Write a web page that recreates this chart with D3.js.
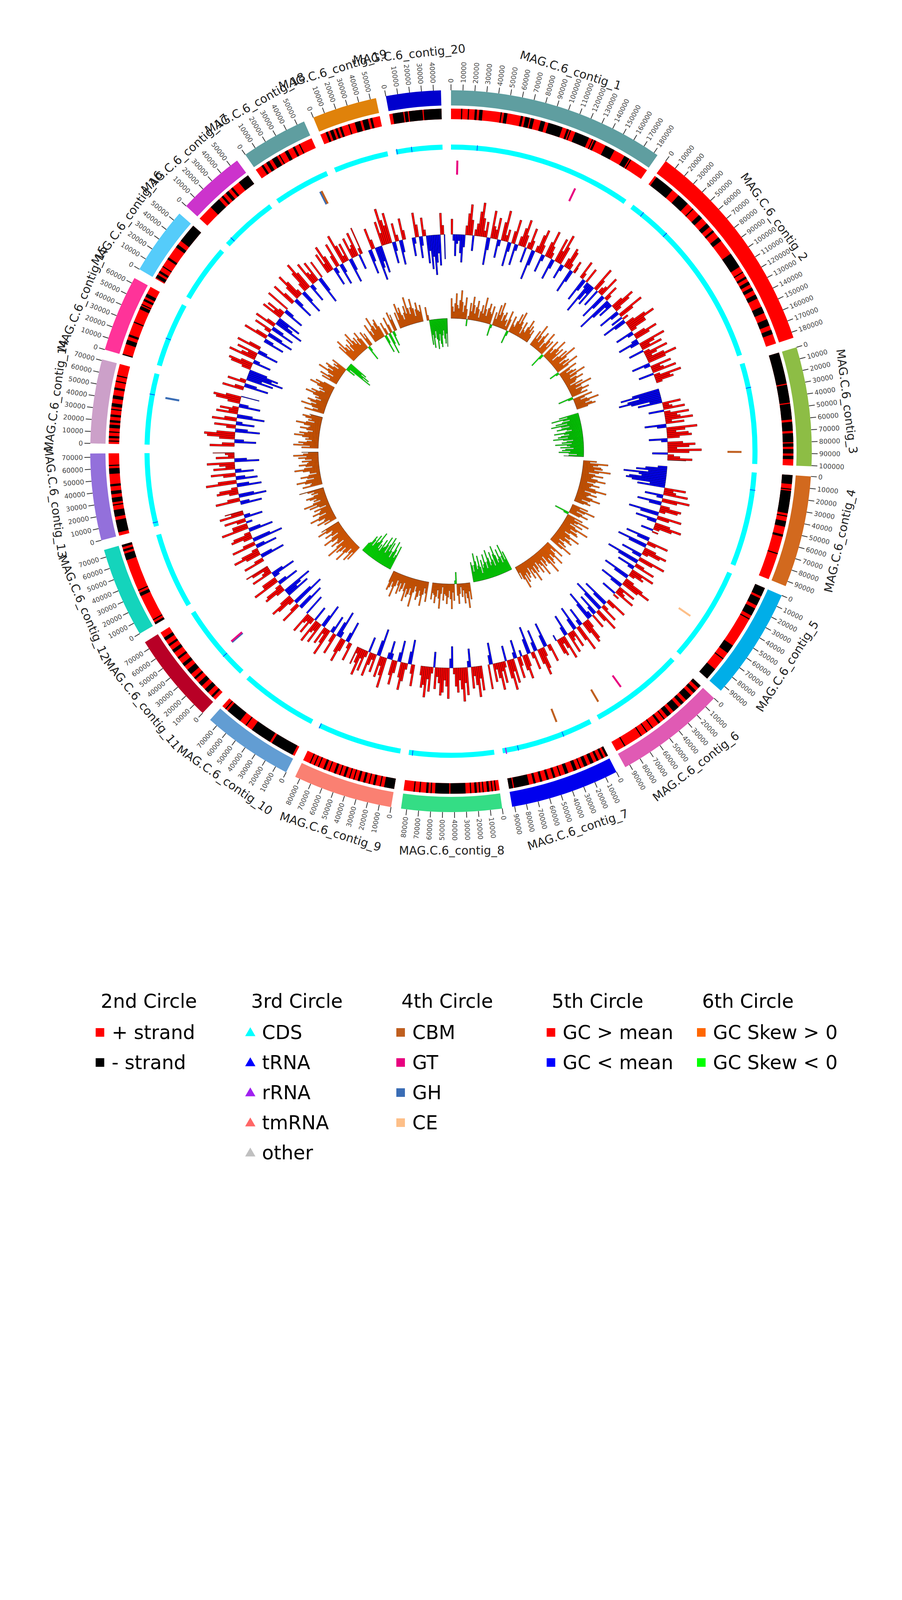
<!DOCTYPE html>
<html>
<head>
<meta charset="utf-8">
<script src="https://cdn.jsdelivr.net/npm/d3@7/dist/d3.min.js"></script>
<style>
  body { margin: 0; background: #fff; }
  text { font-family: "DejaVu Sans", sans-serif; }
</style>
</head>
<body>
<div id="chart"></div>
<script>
// ---- data ----
const contigNames = ["MAG.C.6_contig_1","MAG.C.6_contig_2","MAG.C.6_contig_3","MAG.C.6_contig_4","MAG.C.6_contig_5",
  "MAG.C.6_contig_6","MAG.C.6_contig_7","MAG.C.6_contig_8","MAG.C.6_contig_9","MAG.C.6_contig_10",
  "MAG.C.6_contig_11","MAG.C.6_contig_12","MAG.C.6_contig_13","MAG.C.6_contig_14","MAG.C.6_contig_15",
  "MAG.C.6_contig_16","MAG.C.6_contig_17","MAG.C.6_contig_18","MAG.C.6_contig_19","MAG.C.6_contig_20"];
const contigLengths = [183500,184800,100600,94300,94800,94200,92100,84800,84200,77300,
  76400,76100,73200,71000,64800,57300,57100,56400,54800,46300];
const contigColors = ["#5F9EA0","#FF0000","#8DBD45","#D2691E","#00AEE8","#E05AB4","#0000EE","#34DD85","#FA8072","#629DD3",
  "#B80026","#14D4BC","#9370DB","#CCA0C9","#FF3399","#55CCFA","#CC33CC","#5F9EA0","#E0820A","#0000CD"];

// minus-strand stretches (kb); everything else on the contig is + strand
const minusStrand = [
  [[9,10],[15,16],[21,23],[25,28],[44,45],[47,50],[62,64],[66,70],[71,74],[80,84],[87,100],[104,106],[107,108],[112,125],[128,129],[130,132],[141,150],[160,165],[166,167]],
  [[2,20],[27,38],[44,45],[52,56],[62,66],[70,72],[78,82],[96,110],[115,116],[120,122],[125,128],[131,134],[138,142],[150,156],[162,168],[172,176]],
  [[0,28],[29,45],[46,60],[62,70],[72,80],[81,84],[86,90],[92,95]],
  [[0,8],[12,13],[14,34],[36,37],[41,46],[53,55],[70,71]],
  [[0,8],[10,17],[20,27],[30,31],[58,66],[72,73],[84,94.8]],
  [[0,3],[6,9],[12,18],[21,24],[27,33],[36,40],[43,44],[48,50],[56,57],[62,63],[68,69],[85,86]],
  [[0,2],[4,6],[9,11],[14,17],[20,23],[26,27],[30,33],[38,41],[45,46],[50,52],[56,58],[62,64],[68,70],[74,87.5],[88.5,92.1]],
  [[3,4],[6,7],[9,11],[14,15],[17,18],[20,22],[25,26],[30,43.5],[44.5,57],[60,61],[63,65],[70,71],[75,76]],
  [[0,9],[12,13],[17,19],[22,23],[26,28],[31,33],[36,37],[40,41],[44,46],[49,50],[53,55],[59,60],[63,65],[69,70],[73,74],[77,78]],
  [[2,23],[25,44],[50,51],[57,71],[73,74]],
  [[3,5],[9,13],[17,21],[25,27],[31,36],[40,43],[48,50],[55,58],[62,64],[68,71]],
  [[0,2],[4,5],[28,31],[33,34],[62,68],[70,72],[74,76.1]],
  [[3,14],[17,23],[27,28],[30,34],[37,40],[44,46],[55,60],[62,63]],
  [[2,3],[5,7],[10,11],[14,17],[19,21],[24,26],[30,31],[33,36],[40,43],[48,50],[55,56],[60,61]],
  [[0,1],[10,14],[17,19],[30,31],[43,46],[47,48],[51,53],[55,58]],
  [[1,4],[6,8],[12,13],[20,22],[33,36],[40,57.3]],
  [[14,24],[27,29],[32,35],[38,40],[47,57.1]],
  [[6,8],[11,14],[17,22],[24,25],[30,33],[38,40],[44,45]],
  [[5,7],[9,12],[14,16],[18,20],[26,27],[32,37],[39,44],[46,48]],
  [[3,12.5],[13.5,16.5],[17.5,29.5],[30.5,46.3]]
];

// RNA features in the CDS circle: [contig index, position kb]
const tRNAs = [[0,26],[1,12.6],[1,43],[2,24.7],[3,17.5],[6,30],[6,76.6],[7,81],[8,83.5],[10,23.6],
  [12,4],[13,50],[14,27.8],[16,7],[19,1],[19,15.7]];
const rRNAs = [[6,88.7]];

// CAZy hits: [contig index, position kb, class]
const cazyHits = [[0,6.6,"GT"],[0,133,"GT"],[2,88.7,"CBM"],[4,57.7,"CE"],[5,58,"GT"],[5,86,"CBM"],
  [6,31.5,"CBM"],[10,28.5,"GH"],[10,29.6,"GT"],[13,49,"GH"],[17,42,"GH"],[17,43.6,"CBM"]];
const cazyColors = {CBM: "#BF5F1F", GT: "#E8007F", GH: "#3A6DB5", CE: "#FDBF88"};

// GC content deviation from the mean (%), 2.5 kb windows
const binSize = 2500;
const gcContent = [
  [5,-2,-7,-3,-2,-6,-9,-4,3,7,10,5,-5,2,4,8,11,6,2,5,-9,-4,9,4,3,7,-6,-2,6,10,2,4,-8,-3,4,8,-7,-2,3,6,9,4,-5,2,7,3,-10,-5,2,6,8,3,-6,-2,5,9,4,2,-7,-3,8,4,10,6,-5,-2,3,7,6,2,-8,-4,4,2],
  [6,2,-8,-4,5,-2,-11,-6,-3,-7,8,4,-6,2,3,7,-9,-5,5,2,-12,-7,-2,-5,4,8,6,2,-7,-3,9,5,-4,2,-8,-4,3,7,10,6,6,2,-6,-2,4,8,5,-2,-7,-3,9,5,3,7,-5,2,8,4,2,6,10,6,-6,-2,7,3,4,8,-5,2,9,5,6,2],
  [-9,-13,-7,-11,-14,-10,-4,-8,6,2,3,7,-5,2,8,4,5,9,2,6,-7,-3,10,6,3,7,8,4,-6,-2,5,9,7,3,11,7,-5,2,4,8,6],
  [-3,-7,-10,-6,-14,-9,-8,-12,-13,-11,-5,-9,7,3,4,8,-6,-2,9,5,-8,-4,3,7,6,2,-10,-6,8,4,-7,-3,5,9,6,2,-4,2],
  [-8,-4,7,3,-10,-6,4,8,6,2,-7,-3,9,5,-11,-7,3,7,-6,-2,8,4,5,2,-9,-5,3,7,10,6,-8,-4,6,2,3,7,-5,2],
  [7,3,-9,-5,2,6,-11,-7,8,4,-7,-3,5,-2,-10,-6,3,7,8,4,-6,-2,9,5,-8,-4,6,2,3,7,-7,-3,8,4,2,6,5,-2],
  [6,2,-8,-4,3,7,9,5,-7,-3,6,2,-9,-5,4,8,5,-2,3,7,-6,-2,8,4,10,6,-5,2,7,3,9,5,2,6,-7,-3,8],
  [8,4,10,6,3,7,-6,-2,9,5,11,7,4,8,6,2,-7,-3,10,6,4,8,9,5,3,7,-5,2,8,4,10,6,7,3],
  [7,3,-8,-4,2,6,9,5,-7,-3,4,8,5,-2,-6,-2,10,6,3,7,-9,-5,6,2,4,8,-5,2,7,3,9,5,2,6],
  [6,2,-7,-3,4,8,5,-2,-9,-5,7,3,-6,-2,9,5,2,6,-8,-4,7,3,4,8,-5,2,6,2,3,7,-7],
  [-9,-5,7,3,-11,-7,2,6,8,4,-8,-4,-6,-10,3,7,6,2,-7,-3,9,5,5,-2,-8,-4,7,3,2,6,8],
  [7,3,-8,-4,5,9,6,2,-7,-3,8,4,-10,-6,3,7,6,2,-8,-4,9,5,5,-2,3,7,-6,-2,8,4,6],
  [-7,-3,8,4,-9,-5,3,7,6,2,-8,-4,10,6,-7,-3,4,8,-6,-2,7,3,5,9,-8,-4,6,2,3,7],
  [8,4,-7,-3,5,9,10,6,-8,-4,3,7,-6,-2,8,4,-9,-5,7,3,6,2,-7,-3,4,8,9,5,-6],
  [7,3,-8,-4,6,2,-9,-5,-12,-8,-10,-6,3,7,8,4,-6,-2,9,5,3,7,-7,-3,8,4],
  [-7,-3,8,4,-9,-5,2,6,-8,-4,7,3,-10,-6,-4,-8,7,3,6,2,-7,-3,8],
  [8,4,-7,-3,5,9,6,2,-8,-4,3,7,10,6,-6,-2,8,4,3,7,-9,-5,6],
  [7,3,9,5,-6,-2,4,8,-7,-3,10,6,2,6,-8,-4,7,3,4,8,-5,2,9],
  [-8,-4,7,3,-11,-7,-5,-9,8,4,12,8,6,10,-7,-3,6,2,-8,-4,7,3],
  [-6,-2,8,4,-7,-3,6,2,-9,-5,-11,-7,-13,-9,-6,-10,7,3,-8]
];

// GC skew, same windows
const gcSkew = [
  [0.6,0.35,0.2,0.45,0.75,0.4,0.3,0.55,0.85,0.5,0.2,0.4,0.65,0.3,-0.2,0.1,0.5,0.25,0.7,0.45,0.2,0.4,0.6,0.35,0.1,0.3,0.5,0.25,0.75,0.4,0.2,0.45,0.6,0.35,0.3,0.55,-0.35,-0.1,0.4,0.2,0.65,0.35,0.75,0.45,0.2,0.4,0.5,0.25,0.3,0.1,0.6,0.35,-0.4,-0.15,0.5,0.25,0.2,0.4,0.65,0.35,0.75,0.45,0.3,0.1,0.5,0.25,0.2,0.4,0.65,0.35,0.5,0.25,0.4,0.2],
  [0.5,0.25,0.75,0.4,0.2,0.45,0.6,0.35,0.1,0.3,0.7,0.45,0.25,0.5,-0.45,-0.15,0.6,0.35,0.2,0.4,0.75,0.45,0.3,0.55,0.1,0.3,0.6,0.35,0.85,0.5,0.2,0.4,0.5,0.25,0.75,0.4,-0.3,-0.1,0.6,0.35,0.2,0.4,0.5,0.25,0.75,0.45,0.2,0.4,0.6,0.35,0.3,0.1,0.5,0.25,0.75,0.4,0.2,0.4,0.6,0.35,0.3,0.5,-0.45,-0.15,0.6,0.35,0.2,0.4,0.75,0.45,0.3,0.5,0.6,0.35],
  [-0.6,-0.35,-0.85,-0.5,-0.3,-0.55,-0.75,-0.4,-0.9,-0.6,-0.35,-0.6,-0.75,-0.45,-0.3,-0.5,-0.85,-0.55,-0.4,-0.65,-0.75,-0.45,-0.9,-0.6,-0.3,-0.5,-0.65,-0.35,-0.85,-0.5,-0.4,-0.7,-0.3,-0.55,-0.65,-0.4,-0.75,-0.45,-0.2,-0.45,-0.6],
  [0.4,0.2,0.75,0.45,0.3,0.55,0.6,0.35,0.85,0.5,0.2,0.4,0.65,0.35,0.3,0.5,0.75,0.45,0.2,0.4,0.6,0.35,0.3,0.5,0.85,0.55,0.2,0.4,0.6,0.35,0.3,0.5,0.75,0.45,0.2,0.4,0.5,0.3],
  [0.5,0.25,0.75,0.45,0.2,0.4,0.6,0.35,-0.45,-0.15,0.5,0.25,0.75,0.4,0.3,0.6,0.2,0.4,0.85,0.5,0.3,0.55,0.6,0.35,0.2,0.4,0.75,0.45,0.3,0.5,0.6,0.35,0.2,0.4,0.5,0.25,0.75,0.45],
  [0.6,0.35,0.2,0.4,0.75,0.45,0.3,0.5,0.6,0.35,0.85,0.5,0.2,0.4,0.5,0.25,0.75,0.4,0.3,0.6,0.2,0.4,0.5,0.25,0.75,0.45,0.3,0.6,0.2,0.4,0.5,0.3,0.6,0.35,0.75,0.45,0.2,0.4],
  [-0.6,-0.35,-0.85,-0.5,-0.3,-0.5,-0.75,-0.45,-0.35,-0.6,-0.9,-0.65,-0.3,-0.5,-0.75,-0.45,-0.35,-0.6,-0.85,-0.5,-0.3,-0.5,-0.75,-0.45,-0.35,-0.6,-0.2,-0.4,-0.75,-0.45,-0.35,-0.6,-0.85,-0.5,-0.3,-0.5,-0.6],
  [0.5,0.25,0.75,0.45,0.3,0.6,0.2,0.4,0.1,0.3,0.6,0.35,-0.35,-0.1,0.5,0.25,0.75,0.45,0.2,0.4,0.6,0.35,0.3,0.5,0.1,0.3,0.75,0.45,0.2,0.4,0.6,0.35,0.3,0.5],
  [0.6,0.35,0.2,0.4,0.75,0.45,0.3,0.5,0.6,0.35,0.2,0.4,0.85,0.5,0.3,0.5,0.6,0.35,0.75,0.45,0.2,0.4,0.5,0.25,0.6,0.35,0.2,0.4,0.75,0.45,0.3,0.5,0.6,0.35],
  [-0.75,-0.45,-0.35,-0.6,-0.85,-0.5,-0.3,-0.5,-0.75,-0.45,-0.9,-0.65,-0.35,-0.6,-0.85,-0.5,-0.45,-0.7,-0.3,-0.5,-0.35,-0.6,-0.85,-0.5,-0.45,-0.7,-0.3,-0.5,-0.6,-0.35,-0.3],
  [0.5,0.25,0.6,0.35,0.2,0.4,0.75,0.45,0.3,0.5,0.6,0.35,0.85,0.5,0.2,0.4,0.6,0.35,0.3,0.5,0.75,0.45,0.2,0.4,0.6,0.35,0.3,0.5,0.75,0.45,0.6],
  [0.4,0.2,0.6,0.35,0.3,0.5,0.75,0.45,0.2,0.4,0.6,0.35,0.3,0.5,0.1,0.3,0.6,0.35,0.75,0.45,0.2,0.4,0.3,0.5,0.6,0.35,0.2,0.4,0.3,0.5,0.75],
  [0.6,0.35,0.3,0.5,0.75,0.45,0.2,0.4,0.6,0.35,0.1,0.3,0.3,0.5,0.75,0.45,0.2,0.4,0.6,0.35,0.3,0.5,0.2,0.4,0.6,0.35,0.75,0.45,0.3,0.5],
  [0.5,0.25,0.75,0.45,0.6,0.35,0.2,0.4,0.3,0.5,0.75,0.45,0.6,0.35,0.2,0.4,0.6,0.35,0.3,0.5,0.75,0.45,0.2,0.4,0.3,0.5,0.6,0.35,0.4],
  [0.6,0.35,0.2,0.4,0.75,0.45,0.3,0.5,0.6,0.35,0.2,0.4,0.3,0.5,0.75,0.45,0.6,0.35,0.2,0.4,0.3,0.5,0.75,0.45,0.6,0.35],
  [0.5,0.25,0.6,0.35,0.2,0.4,0.75,0.45,0.3,0.5,0.6,0.35,0.2,0.4,0.3,0.5,-0.3,-0.1,-0.85,-0.55,-0.75,-0.45,-0.6],
  [0.6,0.35,0.75,0.45,0.3,0.5,0.2,0.4,0.6,0.35,0.75,0.45,0.3,0.5,0.2,0.4,0.6,0.35,-0.45,-0.15,0.5,0.25,0.4],
  [0.6,0.35,0.2,0.4,0.75,0.45,0.3,0.5,0.6,0.35,-0.55,-0.25,0.4,0.2,-0.65,-0.35,0.5,0.25,-0.45,-0.15,0.6,0.35,0.5],
  [0.5,0.25,0.75,0.45,0.6,0.35,0.2,0.4,0.6,0.35,0.85,0.5,0.3,0.5,0.75,0.45,0.2,0.4,0.6,0.35,0.3,0.5],
  [0.4,0.15,-0.75,-0.45,-0.85,-0.55,-0.35,-0.6,-0.9,-0.65,-0.45,-0.75,-0.85,-0.5,-0.35,-0.6,-0.75,-0.45,-0.85]
];

// legend
const legendTitles = ["2nd Circle","3rd Circle","4th Circle","5th Circle","6th Circle"];
const legendLabels = [["+ strand","- strand"],["CDS","tRNA","rRNA","tmRNA","other"],["CBM","GT","GH","CE"],
  ["GC > mean","GC < mean"],["GC Skew > 0","GC Skew < 0"]];
const legendColors = [["#FF0000","#000000"],["#00FFFF","#0000FF","#A020F0","#FF6666","#C0C0C0"],
  ["#BF5F1F","#E8007F","#3A6DB5","#FDBF88"],["#FF0000","#0000FF"],["#FF6600","#00FF00"]];
const legendShapes = ["square","triangle","square","square","square"];

// ---- layout ----
const W = 2310, H = 4620, cx = 1155, cy = 1155;
const gapDeg = 1.6;
const rad = Math.PI / 180;

const svg = d3.select("#chart").append("svg")
    .attr("width", W).attr("height", H)
    .attr("viewBox", `0 0 ${W} ${H}`);
svg.append("rect").attr("width", W).attr("height", H).attr("fill", "#fff");

const g = svg.append("g").attr("transform", `translate(${cx},${cy})`);

// one angular scale per contig
const total = d3.sum(contigLengths);
const avail = 360 - gapDeg * contigLengths.length;
const cum = d3.cumsum([0].concat(contigLengths));
const angle = contigLengths.map((len, i) => {
    const a0 = (cum[i] / total * avail + i * gapDeg) * rad;
    const a1 = a0 + len / total * avail * rad;
    return d3.scaleLinear().domain([0, len]).range([a0, a1]);
});

// radial scales for the two plot circles
const gcR = d3.scaleLinear().domain([-14, 14]).range([445, 665]);
const skewR = d3.scaleLinear().domain([-1, 1]).range([255, 425]);

const arc = d3.arc();
const pt = (a, r) => [r * Math.sin(a), -r * Math.cos(a)];

function band(i, s, e, r0, r1) {
    return arc({innerRadius: r0, outerRadius: r1, startAngle: angle[i](s), endAngle: angle[i](e)});
}

contigLengths.forEach((len, i) => {
    const sc = angle[i];

    // 1st circle: contig ideogram
    g.append("path").attr("d", band(i, 0, len, 885, 924)).attr("fill", contigColors[i]);

    // ticks every 10 kb
    d3.range(0, len + 1, 10000).forEach(t => {
        const a = sc(t);
        const [x0, y0] = pt(a, 924), [x1, y1] = pt(a, 939);
        g.append("line").attr("x1", x0).attr("y1", y0).attr("x2", x1).attr("y2", y1)
            .attr("stroke", "#333").attr("stroke-width", 2);
        const deg = a / rad;
        const [tx, ty] = pt(a, 943);
        const flip = deg >= 180;
        g.append("text")
            .attr("transform", `translate(${tx},${ty}) rotate(${flip ? deg + 90 : deg - 90})`)
            .attr("text-anchor", flip ? "end" : "start")
            .attr("dominant-baseline", "central")
            .attr("font-size", 17).attr("fill", "#444")
            .text(t);
    });

    // contig name
    const mid = (sc(0) + sc(len)) / 2, mdeg = mid / rad;
    const [lx, ly] = pt(mid, 1022);
    const rot = (mdeg > 90 && mdeg < 270) ? mdeg - 180 : mdeg;
    g.append("text")
        .attr("transform", `translate(${lx},${ly}) rotate(${rot})`)
        .attr("text-anchor", "middle").attr("dominant-baseline", "central")
        .attr("font-size", 30).attr("fill", "#222")
        .text(contigNames[i]);

    // 2nd circle: strand
    g.append("path").attr("d", band(i, 0, len, 850, 877)).attr("fill", "#FF0000");
    minusStrand[i].forEach(([s, e]) => {
        g.append("path").attr("d", band(i, s * 1000, Math.min(e * 1000, len), 850, 877)).attr("fill", "#000");
    });

    // 3rd circle: CDS band
    g.append("path").attr("d", band(i, 0, len, 772, 785)).attr("fill", "#00FFFF");

    // 5th circle: GC content
    gcContent[i].forEach((v, j) => {
        const s = j * binSize, e = Math.min((j + 1) * binSize, len);
        if (s >= len) return;
        const r0 = v >= 0 ? gcR(0) : gcR(v), r1 = v >= 0 ? gcR(v) : gcR(0);
        g.append("path").attr("d", band(i, s, e, r0, r1))
            .attr("fill", v >= 0 ? "#FF0000" : "#0000FF")
            .attr("stroke", "#000").attr("stroke-width", 0.6);
    });

    // 6th circle: GC skew
    gcSkew[i].forEach((v, j) => {
        const s = j * binSize, e = Math.min((j + 1) * binSize, len);
        if (s >= len) return;
        const r0 = v >= 0 ? skewR(0) : skewR(v), r1 = v >= 0 ? skewR(v) : skewR(0);
        g.append("path").attr("d", band(i, s, e, r0, r1))
            .attr("fill", v >= 0 ? "#FF6600" : "#00FF00")
            .attr("stroke", "#000").attr("stroke-width", 0.6);
    });
});

// RNA marks on the CDS circle
tRNAs.forEach(([i, p]) => {
    g.append("path").attr("d", band(i, p * 1000 - 250, p * 1000 + 250, 772, 786)).attr("fill", "#0000FF");
});
rRNAs.forEach(([i, p]) => {
    g.append("path").attr("d", band(i, p * 1000 - 600, p * 1000 + 600, 772, 788)).attr("fill", "#A020F0");
});

// 4th circle: CAZy hits
cazyHits.forEach(([i, p, cls]) => {
    const a = angle[i](p * 1000);
    const [x0, y0] = pt(a, 708), [x1, y1] = pt(a, 744);
    g.append("line").attr("x1", x0).attr("y1", y0).attr("x2", x1).attr("y2", y1)
        .attr("stroke", cazyColors[cls]).attr("stroke-width", 5);
});

// ---- legend ----
const legX = d3.scaleLinear().domain([0, 1]).range([258, 643]);
const legY = d3.scaleLinear().domain([0, 1]).range([2643, 2720]);
const tri = d3.symbol().type(d3.symbolTriangle).size(300);

legendTitles.forEach((title, k) => {
    const x = legX(k);
    svg.append("text").attr("x", x).attr("y", 2563)
        .attr("dominant-baseline", "central")
        .attr("font-size", 49).attr("fill", "#000")
        .text(title);
    legendLabels[k].forEach((lab, j) => {
        const y = legY(j);
        if (legendShapes[k] === "square") {
            svg.append("rect").attr("x", x - 13).attr("y", y - 11)
                .attr("width", 22).attr("height", 22)
                .attr("fill", legendColors[k][j]);
        } else {
            svg.append("path").attr("d", tri())
                .attr("transform", `translate(${x - 2},${y + 2})`)
                .attr("fill", legendColors[k][j]);
        }
        svg.append("text").attr("x", x + 28).attr("y", y)
            .attr("dominant-baseline", "central")
            .attr("font-size", 49).attr("fill", "#000")
            .text(lab);
    });
});
</script>
</body>
</html>
